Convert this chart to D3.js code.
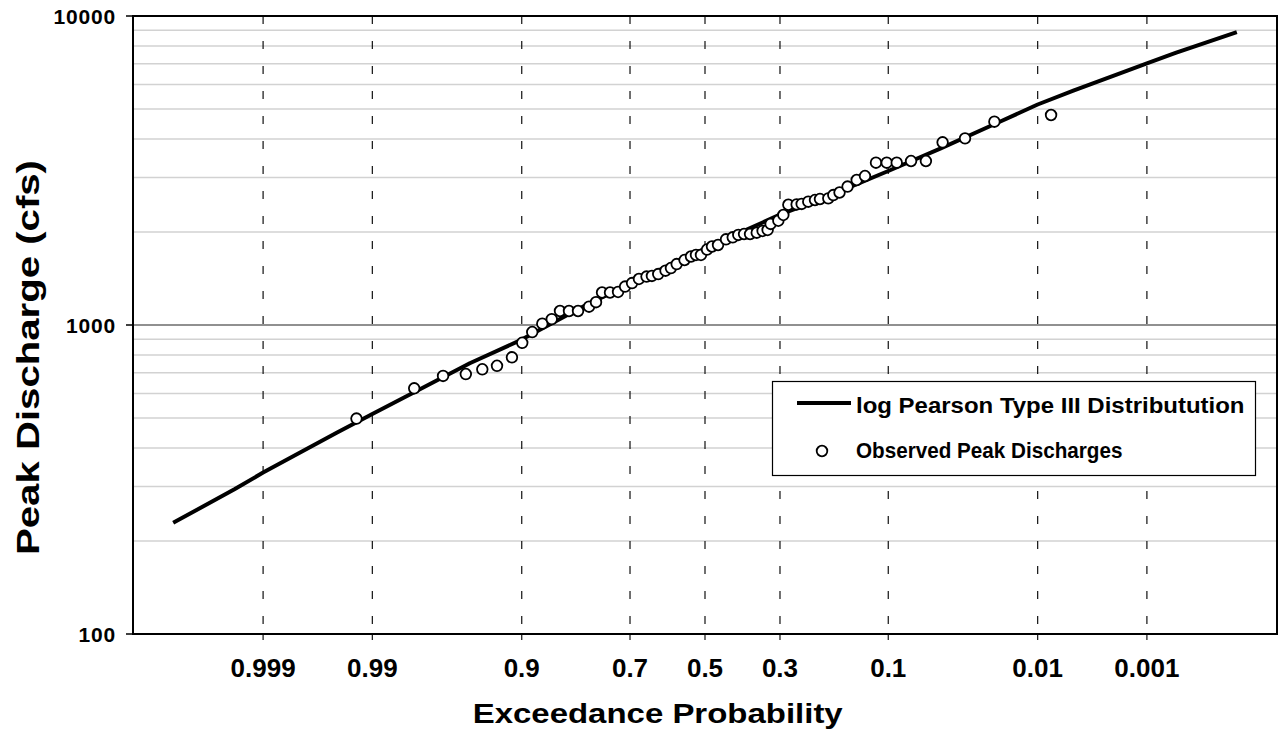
<!DOCTYPE html>
<html><head><meta charset="utf-8">
<script src="https://cdn.jsdelivr.net/npm/d3@7"></script>
<style>body{margin:0;background:#fff}svg{display:block}text{font-family:"Liberation Sans",Arial,sans-serif;font-weight:bold;fill:#000}</style>
</head><body><svg id="chart" width="1278" height="731"></svg>
<script>
// ---- data ----
const xTickProbs = [0.999, 0.99, 0.9, 0.7, 0.5, 0.3, 0.1, 0.01, 0.001];
const xTickLabels = ["0.999", "0.99", "0.9", "0.7", "0.5", "0.3", "0.1", "0.01", "0.001"];
const yTickValues = [100, 1000, 10000];
const yTickLabels = ["100", "1000", "10000"];
const curveProb = [0.9999, 0.9995, 0.999, 0.995, 0.99, 0.98, 0.95, 0.9, 0.8, 0.7, 0.6, 0.5, 0.4, 0.3, 0.2, 0.1, 0.05, 0.02, 0.01, 0.005, 0.002, 0.001, 0.0005, 0.0001];
const curveQ = [229, 294, 333, 448, 515, 599, 752, 897, 1154, 1359, 1558, 1766, 1998, 2275, 2590, 3150, 3720, 4530, 5171, 5730, 6464, 7030, 7598, 8872];
const obsProb = [0.9926, 0.979, 0.9665, 0.9528, 0.9403, 0.9271, 0.9115, 0.8994, 0.8865, 0.8724, 0.8581, 0.8447, 0.8292, 0.8127, 0.7913, 0.777, 0.7642, 0.7467, 0.7284, 0.7119, 0.695, 0.6779, 0.6587, 0.6447, 0.6282, 0.6087, 0.5941, 0.5785, 0.5569, 0.539, 0.5251, 0.5112, 0.4944, 0.4805, 0.4637, 0.4416, 0.4231, 0.4079, 0.3924, 0.3764, 0.3587, 0.3435, 0.3307, 0.3231, 0.304, 0.2919, 0.280, 0.2608, 0.2495, 0.2351, 0.2209, 0.2107, 0.1943, 0.1848, 0.1734, 0.1594, 0.1444, 0.1316, 0.1159, 0.1019, 0.0900, 0.0748, 0.0612, 0.0483, 0.0345, 0.0215, 0.00776];
const obsQ = [498, 624, 684, 694, 719, 738, 786, 876, 949, 1010, 1045, 1110, 1110, 1110, 1146, 1185, 1274, 1274, 1279, 1332, 1367, 1409, 1435, 1441, 1462, 1499, 1529, 1575, 1623, 1666, 1685, 1685, 1755, 1795, 1815, 1894, 1922, 1956, 1970, 1970, 1989, 2015, 2030, 2123, 2175, 2270, 2450, 2455, 2465, 2506, 2538, 2557, 2570, 2634, 2684, 2806, 2946, 3035, 3352, 3352, 3352, 3394, 3394, 3902, 4019, 4549, 4782];
const seriesNames = ["log Pearson Type III Distributution", "Observed Peak Discharges"];
const xTitle = "Exceedance Probability";
const yTitle = "Peak Discharge (cfs)";

// ---- inverse standard normal (Acklam) ----
function probit(p) {
  const a = [-3.969683028665376e+01, 2.209460984245205e+02, -2.759285104469687e+02, 1.383577518672690e+02, -3.066479806614716e+01, 2.506628277459239e+00];
  const b = [-5.447609879822406e+01, 1.615858368580409e+02, -1.556989798598866e+02, 6.680131188771972e+01, -1.328068155288572e+01];
  const c = [-7.784894002430293e-03, -3.223964580411365e-01, -2.400758277161838e+00, -2.549732539343734e+00, 4.374664141464968e+00, 2.938163982698783e+00];
  const d = [7.784695709041462e-03, 3.224671290700398e-01, 2.445134137142996e+00, 3.754408661907416e+00];
  const pl = 0.02425, ph = 1 - pl;
  let q, r;
  if (p < pl) { q = Math.sqrt(-2 * Math.log(p));
    return (((((c[0]*q+c[1])*q+c[2])*q+c[3])*q+c[4])*q+c[5]) / ((((d[0]*q+d[1])*q+d[2])*q+d[3])*q+1); }
  if (p > ph) { q = Math.sqrt(-2 * Math.log(1 - p));
    return -(((((c[0]*q+c[1])*q+c[2])*q+c[3])*q+c[4])*q+c[5]) / ((((d[0]*q+d[1])*q+d[2])*q+d[3])*q+1); }
  q = p - 0.5; r = q * q;
  return (((((a[0]*r+a[1])*r+a[2])*r+a[3])*r+a[4])*r+a[5])*q / (((((b[0]*r+b[1])*r+b[2])*r+b[3])*r+b[4])*r+1);
}

// ---- layout ----
const L = 133, R = 1277, T = 16, B = 634;
const svg = d3.select("#chart");
const zScale = d3.scaleLinear().domain([-4, 4]).range([L, R]);
const x = p => zScale(probit(1 - p));   // exceedance probability -> px
const y = d3.scaleLog().domain([100, 10000]).range([B, T]);

svg.append("rect").attr("x", 0).attr("y", 0).attr("width", 1278).attr("height", 731).attr("fill", "#fff");

// horizontal gridlines
const allY = y.ticks();
const minor = allY.filter(v => !yTickValues.includes(v));
svg.append("g").selectAll("line").data(minor).join("line")
  .attr("x1", L).attr("x2", R).attr("y1", d => y(d)).attr("y2", d => y(d))
  .attr("stroke", "#d2d2d2").attr("stroke-width", 1.5);
svg.append("g").selectAll("line").data(yTickValues.filter(v => v > 100 && v < 10000)).join("line")
  .attr("x1", L).attr("x2", R).attr("y1", d => y(d)).attr("y2", d => y(d))
  .attr("stroke", "#222").attr("stroke-width", 1.2);

// vertical dashed gridlines + ticks
svg.append("g").selectAll("line").data(xTickProbs).join("line")
  .attr("x1", d => x(d)).attr("x2", d => x(d)).attr("y1", T).attr("y2", B)
  .attr("stroke", "#111").attr("stroke-width", 1.2).attr("stroke-dasharray", "8,17");
svg.append("g").selectAll("line").data(xTickProbs).join("line")
  .attr("x1", d => x(d)).attr("x2", d => x(d)).attr("y1", B).attr("y2", B + 6)
  .attr("stroke", "#111").attr("stroke-width", 1.2);

// curve
const line = d3.line().x((d, i) => x(curveProb[i])).y((d, i) => y(curveQ[i]));
svg.append("path").datum(curveQ).attr("d", line)
  .attr("fill", "none").attr("stroke", "#000").attr("stroke-width", 4).attr("stroke-linejoin", "round");

// observed points
svg.append("g").selectAll("circle").data(obsQ).join("circle")
  .attr("cx", (d, i) => x(obsProb[i])).attr("cy", d => y(d)).attr("r", 5.3)
  .attr("fill", "#fff").attr("stroke", "#000").attr("stroke-width", 1.8);

// border
svg.append("rect").attr("x", L).attr("y", T).attr("width", R - L).attr("height", B - T)
  .attr("fill", "none").attr("stroke", "#000").attr("stroke-width", 2);

// y ticks + labels
svg.append("g").selectAll("line").data(yTickValues).join("line")
  .attr("x1", L - 7).attr("x2", L).attr("y1", d => y(d)).attr("y2", d => y(d))
  .attr("stroke", "#000").attr("stroke-width", 1.5);
svg.append("g").selectAll("text").data(yTickLabels).join("text")
  .attr("x", 116).attr("y", (d, i) => y(yTickValues[i]) + 7.5)
  .attr("text-anchor", "end").attr("font-size", 21).attr("letter-spacing", 0.8)
  .text(d => d);

// x labels
svg.append("g").selectAll("text").data(xTickLabels).join("text")
  .attr("x", (d, i) => x(xTickProbs[i])).attr("y", 677)
  .attr("text-anchor", "middle").attr("font-size", 26)
  .text(d => d);

// axis titles
svg.append("text").attr("x", 472.7).attr("y", 723).attr("font-size", 28)
  .attr("textLength", 370).attr("lengthAdjust", "spacingAndGlyphs").text(xTitle);
svg.append("text").attr("transform", "translate(38.5,555) rotate(-90)")
  .attr("x", 0).attr("y", 0).attr("font-size", 31)
  .attr("textLength", 395).attr("lengthAdjust", "spacingAndGlyphs").text(yTitle);

// legend
const lg = svg.append("g");
lg.append("rect").attr("x", 772.5).attr("y", 381.5).attr("width", 483).attr("height", 94)
  .attr("fill", "#fff").attr("stroke", "#000").attr("stroke-width", 1.2);
lg.append("line").attr("x1", 797).attr("x2", 851).attr("y1", 403).attr("y2", 403)
  .attr("stroke", "#000").attr("stroke-width", 4);
lg.append("circle").attr("cx", 822).attr("cy", 451).attr("r", 5.3)
  .attr("fill", "#fff").attr("stroke", "#000").attr("stroke-width", 1.8);
lg.selectAll("text.lt").data(seriesNames).join("text").attr("class", "lt")
  .attr("x", 856).attr("y", (d, i) => i === 0 ? 413 : 458)
  .attr("font-size", 21.5)
  .attr("textLength", d => d.length * 11.1).attr("lengthAdjust", "spacingAndGlyphs")
  .text(d => d);
</script></body></html>
